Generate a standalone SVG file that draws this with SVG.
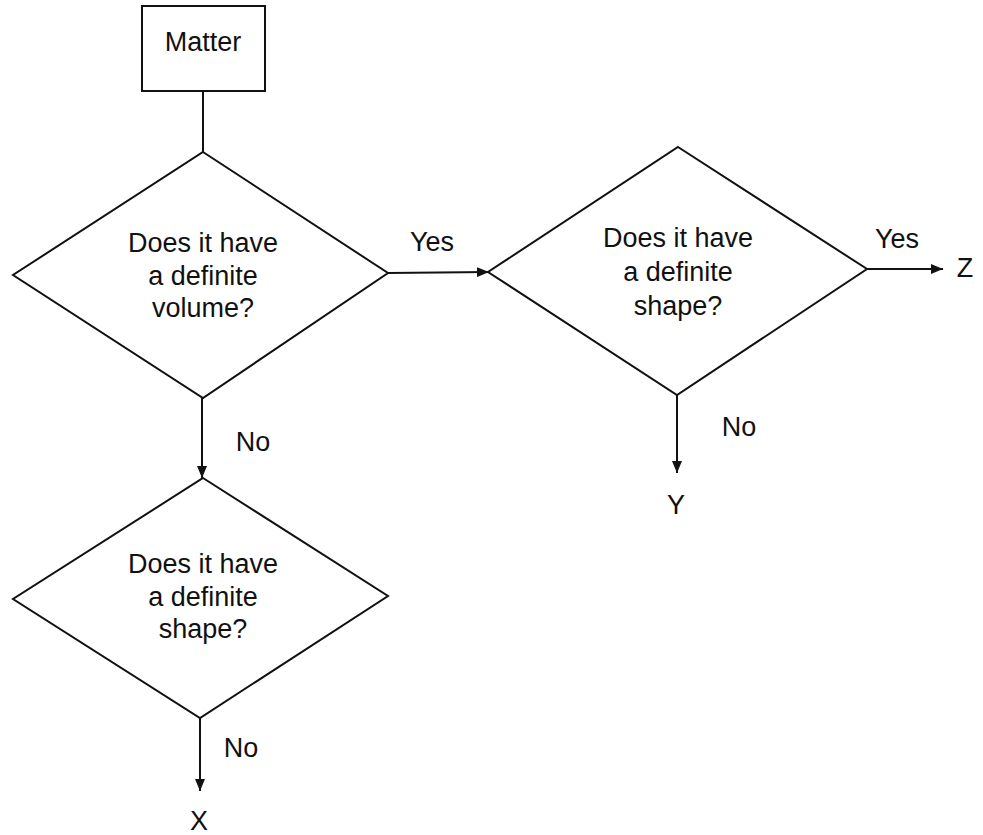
<svg xmlns="http://www.w3.org/2000/svg" width="983" height="835" viewBox="0 0 983 835">
<defs>
<style>
.shape{fill:#fff;stroke:#111;stroke-width:2}
.conn{fill:none;stroke:#111;stroke-width:2}
text{font-family:"Liberation Sans",Arial,sans-serif;font-size:27px;fill:#111;text-anchor:middle}
</style>
<marker id="arr" viewBox="0 0 12 10" refX="12" refY="5" markerWidth="12" markerHeight="10" markerUnits="userSpaceOnUse" orient="auto">
<path d="M0,0 L12,5 L0,10 Z" fill="#111"/>
</marker>
</defs>
<rect width="983" height="835" fill="#fff"/>
<g id="connectors">
<line class="conn" x1="203" y1="91" x2="203" y2="152"/>
<line class="conn" x1="388" y1="273" x2="489" y2="272" marker-end="url(#arr)"/>
<line class="conn" x1="867" y1="269" x2="943" y2="269" marker-end="url(#arr)"/>
<line class="conn" x1="677" y1="395" x2="677" y2="473" marker-end="url(#arr)"/>
<line class="conn" x1="202" y1="398" x2="202" y2="478" marker-end="url(#arr)"/>
<line class="conn" x1="200" y1="718" x2="200" y2="791" marker-end="url(#arr)"/>
<text x="432" y="251">Yes</text>
<text x="897" y="248">Yes</text>
<text x="253" y="451">No</text>
<text x="739" y="436">No</text>
<text x="241" y="757">No</text>
</g>
<g id="matter">
<rect class="shape" x="142" y="6" width="123" height="85"/>
<text x="203" y="51">Matter</text>
</g>
<g id="volume">
<polygon class="shape" points="203,152 388,273 203,398 13,275"/>
<text x="203" y="252">Does it have</text>
<text x="203" y="285">a definite</text>
<text x="203" y="317">volume?</text>
</g>
<g id="shape-yes">
<polygon class="shape" points="678,147 867,269 677,395 488,272"/>
<text x="678" y="247">Does it have</text>
<text x="678" y="281">a definite</text>
<text x="678" y="315">shape?</text>
</g>
<g id="shape-no">
<polygon class="shape" points="203,478 388,596 200,718 13,599"/>
<text x="203" y="573">Does it have</text>
<text x="203" y="606">a definite</text>
<text x="203" y="638">shape?</text>
</g>
<g id="z"><text x="965" y="277">Z</text></g>
<g id="y"><text x="676" y="514">Y</text></g>
<g id="x"><text x="199" y="830">X</text></g>
</svg>
